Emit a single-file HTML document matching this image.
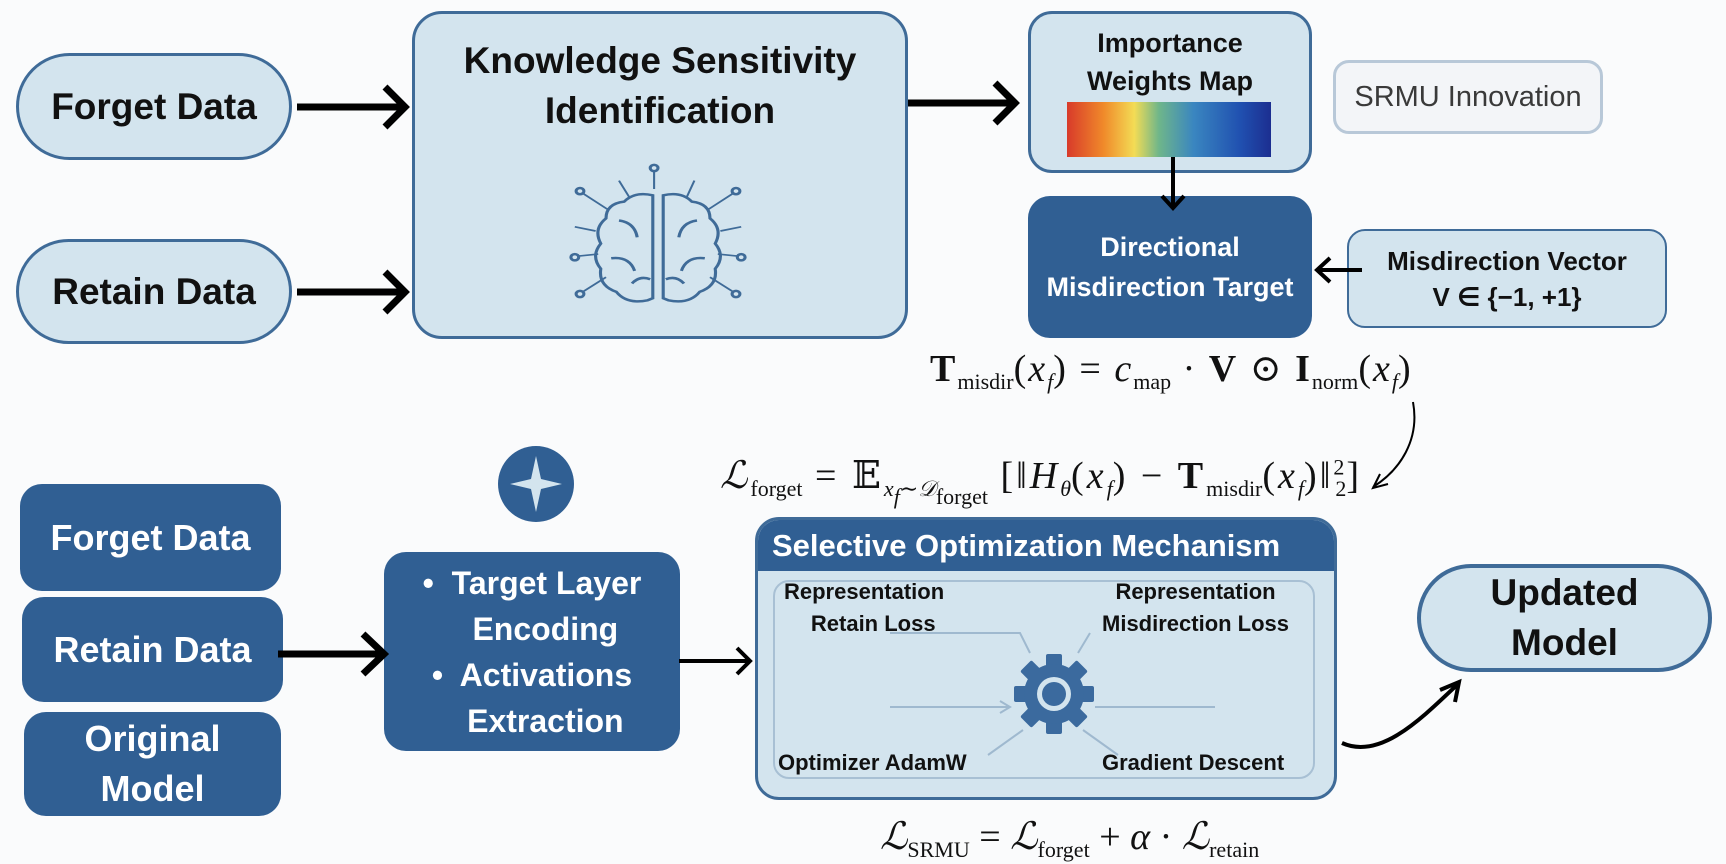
<!DOCTYPE html>
<html><head><meta charset="utf-8"><style>
*{margin:0;padding:0;box-sizing:border-box}
body{width:1726px;height:864px;background:#fafbfc;position:relative;overflow:hidden;font-family:"Liberation Sans","DejaVu Sans",sans-serif;font-weight:bold}
.b{position:absolute;display:flex;align-items:center;justify-content:center;text-align:center;flex-direction:column}
.lt{background:#d3e4ee;border:3px solid #3f6b98;color:#111}
.dk{background:#305f93;color:#fff;border-radius:22px}
.m{position:absolute;font-family:"Liberation Serif","DejaVu Serif",serif;font-weight:normal;font-size:38px;color:#111;white-space:nowrap;letter-spacing:2px}
.m i{font-style:italic}
.m sub{font-size:22px;vertical-align:-8px;letter-spacing:0}
.t{position:absolute;font-size:22px;color:#111;text-align:center;line-height:32px}
</style></head><body>
<div class="b lt" style="left:16px;top:53px;width:276px;height:107px;border-radius:54px;font-size:37px">Forget Data</div>
<div class="b lt" style="left:16px;top:239px;width:276px;height:105px;border-radius:53px;font-size:37px">Retain Data</div>
<div class="b lt" style="left:412px;top:11px;width:496px;height:328px;border-radius:30px;justify-content:flex-start;padding-top:22px;font-size:37px;line-height:50px">Knowledge Sensitivity<br>Identification</div>
<div class="b lt" style="left:1028px;top:11px;width:284px;height:162px;border-radius:24px;justify-content:flex-start;padding-top:10px;font-size:27px;line-height:38px">Importance<br>Weights Map</div>
<div style="position:absolute;left:1067px;top:102px;width:204px;height:55px;background:linear-gradient(90deg,#d83a2a 0%,#f08a2a 18%,#f3dc55 33%,#6fb68a 45%,#3a86c0 62%,#2050b0 85%,#1c2e90 100%)"></div>
<div class="b" style="left:1333px;top:60px;width:270px;height:74px;border:3px solid #b8c8d8;border-radius:16px;background:#f3f5f8;color:#3a3a3a;font-weight:normal;font-size:29px">SRMU Innovation</div>
<div class="b dk" style="left:1028px;top:196px;width:284px;height:142px;font-size:27px;line-height:40px">Directional<br>Misdirection Target</div>
<div class="b lt" style="left:1347px;top:229px;width:320px;height:99px;border-radius:18px;font-size:26px;line-height:36px;border-width:2px">Misdirection Vector<br>V ∈ {−1, +1}</div>
<div class="m" style="left:930px;top:346px"><b>T</b><sub>misdir</sub>(<i>x<sub>f</sub></i>) = <i>c</i><sub>map</sub> · <b>V</b> ⊙ <b>I</b><sub>norm</sub>(<i>x<sub>f</sub></i>)</div>
<div class="m" style="left:720px;top:453px;letter-spacing:3px"><i>ℒ</i><sub>forget</sub> = 𝔼<sub><i>x<sub>f</sub></i>∼<i>𝒟</i><sub>forget</sub></sub> [‖<i>H<sub>θ</sub></i>(<i>x<sub>f</sub></i>) − <b>T</b><sub>misdir</sub>(<i>x<sub>f</sub></i>)‖<sup style="font-size:22px">2</sup><sub style="margin-left:-12px">2</sub>]</div>
<div class="b dk" style="left:20px;top:484px;width:261px;height:107px;font-size:36px">Forget Data</div>
<div class="b dk" style="left:22px;top:597px;width:261px;height:105px;font-size:36px">Retain Data</div>
<div class="b dk" style="left:24px;top:712px;width:257px;height:104px;font-size:36px;line-height:50px">Original<br>Model</div>
<div class="b dk" style="left:384px;top:552px;width:296px;height:199px;font-size:32px;line-height:46px"><div>•&nbsp; Target Layer<br>&nbsp;&nbsp;&nbsp;Encoding<br>•&nbsp; Activations<br>&nbsp;&nbsp;&nbsp;Extraction</div></div>
<div style="position:absolute;left:755px;top:517px;width:582px;height:283px;border:3px solid #3f6b98;border-radius:24px;background:#d3e4ee;overflow:hidden">
<div style="height:51px;background:#305f93;color:#fff;font-size:31px;line-height:51px;padding-left:14px">Selective Optimization Mechanism</div>
</div>
<div style="position:absolute;left:773px;top:580px;width:542px;height:199px;border:2px solid #a8c0d4;border-radius:16px"></div>
<div class="t" style="left:784px;top:576px">Representation<br>&nbsp;&nbsp;&nbsp;Retain Loss</div>
<div class="t" style="left:1102px;top:576px">Representation<br>Misdirection Loss</div>
<div class="t" style="left:778px;top:747px">Optimizer AdamW</div>
<div class="t" style="left:1102px;top:747px">Gradient Descent</div>
<div class="b lt" style="left:1417px;top:564px;width:295px;height:108px;border-radius:54px;font-size:37px;line-height:50px;border-width:4px">Updated<br>Model</div>
<div class="m" style="left:880px;top:814px;letter-spacing:0"><i>ℒ</i><sub>SRMU</sub> = <i>ℒ</i><sub>forget</sub> + <i>α</i> · <i>ℒ</i><sub>retain</sub></div>
<svg width="1726" height="864" style="position:absolute;left:0;top:0" fill="none">
<g stroke="#000" stroke-width="7">
<path d="M297 107H404M385 87L405 107L385 127"/>
<path d="M297 292H404M385 272L405 292L385 312"/>
<path d="M908 103H1015M995 83L1015 103L995 123"/>
<path d="M278 654H383M363 634L384 654L363 674"/>
</g>
<g stroke="#000" stroke-width="4">
<path d="M679 661H749M737 648L750 661L737 674"/>
<path d="M1173 157V207M1162 196L1173 208L1184 196"/>
<path d="M1362 270H1318M1330 258L1317 270L1330 282"/>
<path d="M1342 743C1380 760 1420 720 1458 684M1440 690L1459 682L1455 702"/>
</g>
<path d="M1413 402C1420 440 1400 470 1373 487M1380 474L1373 488L1388 484" stroke="#000" stroke-width="2"/>
<g stroke="#3f6b98" stroke-width="2.4" transform="translate(658,252) scale(1.3,1.05)">
<path d="M-4 -54Q-18 -58 -26 -48Q-40 -46 -40 -32Q-50 -22 -44 -8Q-52 4 -44 16Q-46 32 -32 38Q-24 50 -8 46L-4 44Z"/>
<path d="M4 -54Q18 -58 26 -48Q40 -46 40 -32Q50 -22 44 -8Q52 4 44 16Q46 32 32 38Q24 50 8 46L4 44Z"/>
<path d="M-30 -30Q-18 -28 -16 -14M-36 6Q-22 4 -18 18M30 -30Q18 -28 16 -14M36 6Q22 4 18 18M-20 30Q-14 22 -6 26M20 30Q14 22 6 26"/>
<path d="M-3 -77V-60M-30 -68L-22 -52M28 -68L22 -52M-58 -56L-38 -40M58 -56L38 -40M-64 -24L-48 -20M64 -24L48 -20M-62 4L-46 2M62 4L46 2M-58 38L-40 24M58 38L40 24" stroke-width="1.6"/>
<circle cx="-3" cy="-80" r="3"/><circle cx="-60" cy="-58" r="3"/><circle cx="60" cy="-58" r="3"/><circle cx="-64" cy="5" r="3"/><circle cx="64" cy="5" r="3"/><circle cx="-60" cy="40" r="3"/><circle cx="60" cy="40" r="3"/>
</g>
<g stroke="#9fb9cf" stroke-width="2">
<path d="M890 707H1010M1000 701L1010 707L1000 713M1095 707H1215M890 633H1020L1030 653M1090 633L1078 653M1023 730L988 755M1083 730L1118 755"/>
</g>
<g transform="translate(1054,694)" fill="#3b6a9e">
<g id="t"><rect x="-8" y="-40" width="16" height="14" rx="2"/></g>
<use href="#t" transform="rotate(45)"/><use href="#t" transform="rotate(90)"/><use href="#t" transform="rotate(135)"/><use href="#t" transform="rotate(180)"/><use href="#t" transform="rotate(225)"/><use href="#t" transform="rotate(270)"/><use href="#t" transform="rotate(315)"/>
<circle r="30"/><circle r="17" fill="#d3e4ee"/><circle r="12"/>
</g>
<circle cx="536" cy="484" r="38" fill="#305f93"/>
<path d="M536 456L541 479L562 484L541 489L536 512L531 489L510 484L531 479Z" fill="#d3e4ee"/>
</svg>
</body></html>
